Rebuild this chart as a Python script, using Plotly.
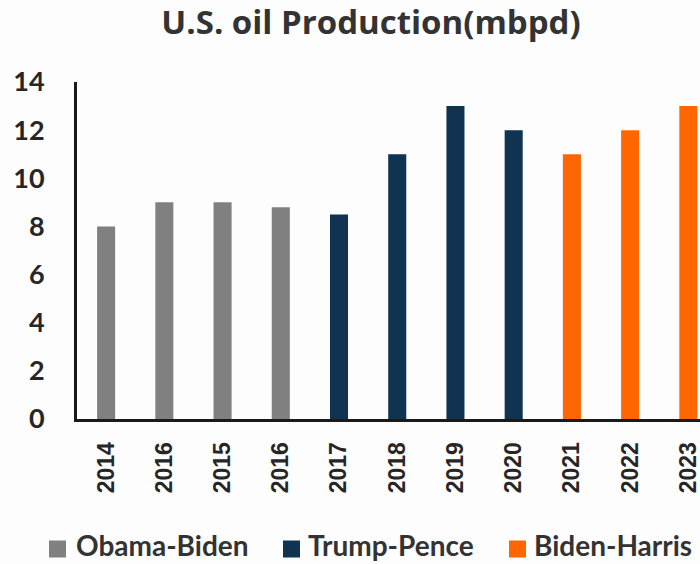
import plotly.graph_objects as go

# U.S. crude oil production by year, grouped by administration
year_labels = ["2014", "2016", "2015", "2016", "2017", "2018",
               "2019", "2020", "2021", "2022", "2023"]
production = [8, 9, 9, 8.8, 8.5, 11, 13, 12, 11, 12, 13]
administration = ["Obama-Biden"] * 4 + ["Trump-Pence"] * 4 + ["Biden-Harris"] * 3

series_names = ["Obama-Biden", "Trump-Pence", "Biden-Harris"]
series_colors = {"Obama-Biden": "#808080",
                 "Trump-Pence": "#0F3351",
                 "Biden-Harris": "#FF6600"}

y_ticks = [0, 2, 4, 6, 8, 10, 12, 14]

positions = list(range(len(year_labels)))

W, H = 700, 564
M_L, M_R, M_T, M_B = 77, 0, 82, 145

fig = go.Figure()
for name in series_names:
    idx = [i for i, a in enumerate(administration) if a == name]
    fig.add_trace(go.Bar(
        x=[positions[i] for i in idx],
        y=[production[i] for i in idx],
        name=name,
        marker=dict(color=series_colors[name], line=dict(width=0)),
        width=0.31,
        showlegend=False,
    ))

label_font = "Lato, 'Open Sans', sans-serif"


def px_to_paper(px, py):
    """Convert page pixel coordinates to paper (plot-area) coordinates."""
    pw = W - M_L - M_R
    ph = H - M_T - M_B
    return (px - M_L) / pw, (H - M_B - py) / ph


# Legend row below the axis: a square key followed by the series name
legend_key_left = [49, 283, 509]
legend_text_left = [75, 307, 533]
legend_mid_y = 549
key_size = 17
for name, kx, tx in zip(series_names, legend_key_left, legend_text_left):
    x0, y0 = px_to_paper(kx, legend_mid_y + key_size / 2)
    x1, y1 = px_to_paper(kx + key_size, legend_mid_y - key_size / 2)
    fig.add_shape(type="rect", xref="paper", yref="paper",
                  x0=x0, x1=x1, y0=y0, y1=y1,
                  fillcolor=series_colors[name], line=dict(width=0))
    ax, ay = px_to_paper(tx, H - 1)
    fig.add_annotation(xref="paper", yref="paper", x=ax, y=ay,
                       xanchor="left", yanchor="bottom", showarrow=False,
                       borderpad=0,
                       text="<b>%s</b>" % name,
                       font=dict(family=label_font, size=28, color="#333333"))

fig.update_layout(
    width=W, height=H,
    margin=dict(l=M_L, r=M_R, t=M_T, b=M_B),
    paper_bgcolor="#FDFDFD",
    plot_bgcolor="#FDFDFD",
    barmode="overlay",
    showlegend=False,
    title=dict(
        text="<b>U.S. oil Production(mbpd)</b>",
        font=dict(family="'Open Sans', sans-serif", size=33, color="#333333"),
        x=371 / W, xanchor="center",
        y=1 - 22 / H, yanchor="middle",
    ),
    xaxis=dict(
        tickmode="array",
        tickvals=positions,
        ticktext=["<b>%s</b>" % t for t in year_labels],
        tickangle=-90,
        tickfont=dict(family="'Liberation Sans', Arial, sans-serif", size=23, color="#262626"),
        range=[-0.5, 10.2],
        showline=True, linecolor="#1A1A1A", linewidth=3,
        showgrid=False, zeroline=False,
        ticks="", ticklabelstandoff=11,
        ticklabeloverflow="allow",
    ),
    yaxis=dict(
        range=[0, 14],
        tickvals=y_ticks,
        ticktext=["<b>%d</b>" % v for v in y_ticks],
        tickfont=dict(family=label_font, size=27, color="#262626"),
        showline=True, linecolor="#1A1A1A", linewidth=3,
        showgrid=False, zeroline=False,
        ticks="", ticklabelstandoff=24,
    ),
)

fig.write_html("out.html")
